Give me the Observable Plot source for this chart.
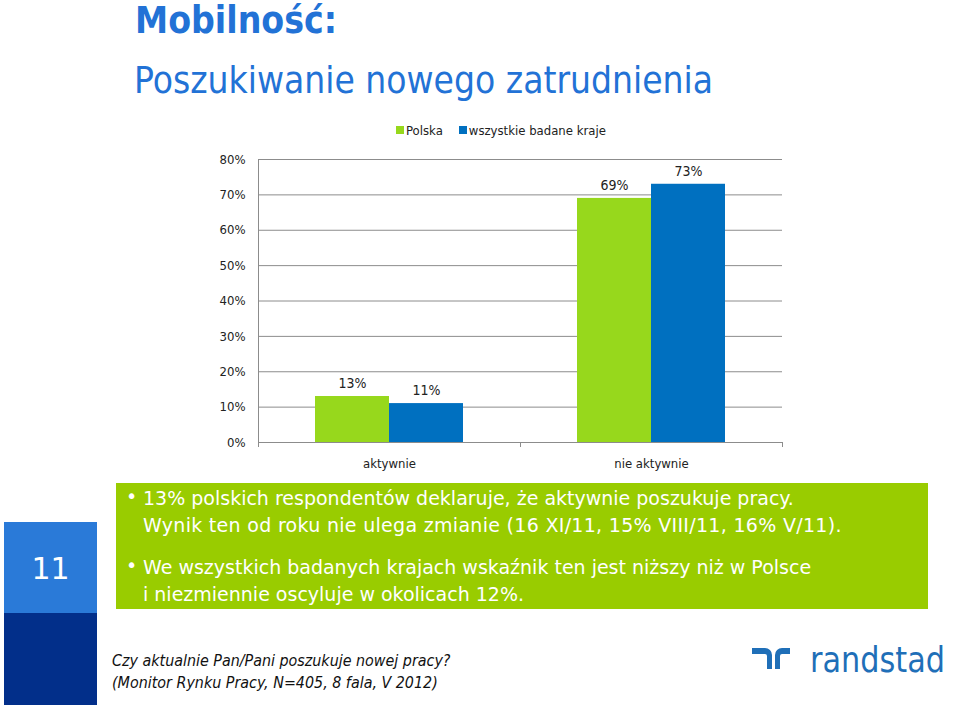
<!DOCTYPE html>
<html>
<head>
<meta charset="utf-8">
<script src="https://cdn.jsdelivr.net/npm/d3@7"></script>
<script src="https://cdn.jsdelivr.net/npm/@observablehq/plot@0.6"></script>
<style>
  html, body { margin: 0; padding: 0; background: #ffffff; }
  #page { position: relative; width: 960px; height: 706px; overflow: hidden; font-family: "DejaVu Sans Condensed", "DejaVu Sans", sans-serif; }
  .abs { position: absolute; white-space: nowrap; }
  #title { left: 135px; top: -1px; font-size: 37px; font-weight: bold; color: #2272d6; font-family: "DejaVu Sans Condensed", sans-serif; }
  #subtitle { left: 134px; top: 59px; font-size: 36.8px; color: #2272d6; font-family: "DejaVu Sans Condensed", sans-serif; }
  #legend { left: 396px; top: 123px; font-size: 13px; color: #222; display: flex; gap: 16px; align-items: center; }
  #legend span.sw { display: inline-block; width: 8px; height: 8px; margin-right: 2px; vertical-align: 1px; }
  #chart { left: 0; top: 140px; }
  #blockLight { left: 4px; top: 522px; width: 93px; height: 91px; background: #2a7ad8; }
  #blockDark { left: 4px; top: 613px; width: 93px; height: 92px; background: #022f8a; }
  #pagenum { left: 4px; top: 551px; width: 93px; text-align: center; color: #fff; font-size: 30px; font-family: "DejaVu Sans", sans-serif; }
  #box { left: 116px; top: 483px; width: 812px; height: 126px; background: #99cc00; }
  .bul { position: absolute; color: #fff; font-size: 19px; font-family: "DejaVu Sans", sans-serif; white-space: nowrap; }
  #caption { left: 112px; top: 650px; font-size: 15.9px; font-style: italic; color: #111; line-height: 22px; font-family: "DejaVu Sans Condensed", sans-serif; }
  #logo { left: 750px; top: 638px; }
</style>
</head>
<body>
<div id="page">
  <div id="title" class="abs">Mobilność:</div>
  <div id="subtitle" class="abs">Poszukiwanie nowego zatrudnienia</div>
  <div id="legend" class="abs"></div>
  <div id="chart" class="abs"></div>
  <div id="blockLight" class="abs"></div>
  <div id="blockDark" class="abs"></div>
  <div id="pagenum" class="abs">11</div>
  <div id="box" class="abs">
    <div class="bul" style="left:10px; top:2px;">•</div>
    <div class="bul" style="left:27px; top:4px;">13% polskich respondentów deklaruje, że aktywnie poszukuje pracy.</div>
    <div class="bul" style="left:27px; top:31px; letter-spacing:0.3px;">Wynik ten od roku nie ulega zmianie (16 XI/11, 15% VIII/11, 16% V/11).</div>
    <div class="bul" style="left:10px; top:71px;">•</div>
    <div class="bul" style="left:27px; top:73px;">We wszystkich badanych krajach wskaźnik ten jest niższy niż w Polsce</div>
    <div class="bul" style="left:27px; top:100px;">i niezmiennie oscyluje w okolicach 12%.</div>
  </div>
  <div id="caption" class="abs">Czy aktualnie Pan/Pani poszukuje nowej pracy?<br>(Monitor Rynku Pracy, N=405, 8 fala, V 2012)</div>
  <svg id="logo" class="abs" width="205" height="45" viewBox="0 0 205 45">
    <g fill="#1f6fb8">
      <path d="M2 10 h13 a7 7 0 0 1 7 7 v14 h-5 v-13 a2 2 0 0 0 -2 -2 h-13 z"/>
      <path d="M40 10 h-8 a7 7 0 0 0 -7 7 v14 h5 v-13 a2 2 0 0 1 2 -2 h8 z"/>
    </g>
    <text x="60" y="34" fill="#1f6fb8" font-family="DejaVu Sans Condensed, sans-serif" font-size="36" textLength="135" lengthAdjust="spacingAndGlyphs">randstad</text>
  </svg>
</div>
<script>
// ---- data ----
const categories = ["aktywnie", "nie aktywnie"];
const seriesNames = ["Polska", "wszystkie badane kraje"];
const polskaValues = [13, 69];
const wszystkieValues = [11, 73];
const yTicks = [0, 10, 20, 30, 40, 50, 60, 70, 80];
const seriesColors = ["#97d81c", "#0070c0"];

const polska = categories.map((c, i) => ({category: c, value: polskaValues[i]}));
const wszystkie = categories.map((c, i) => ({category: c, value: wszystkieValues[i]}));

// legend
const legend = document.getElementById("legend");
seriesNames.forEach((name, i) => {
  const item = document.createElement("div");
  item.innerHTML = `<span class="sw" style="background:${seriesColors[i]}"></span>${name}`;
  legend.appendChild(item);
});

const font = "DejaVu Sans Condensed, DejaVu Sans, sans-serif";
const chart = Plot.plot({
  width: 960,
  height: 340,
  marginLeft: 258,
  marginRight: 178,
  marginTop: 19,
  marginBottom: 38,
  style: {fontFamily: font, fontSize: "13px", color: "#222", background: "transparent"},
  x: {domain: categories, padding: 0, label: null},
  y: {domain: [0, 80], ticks: yTicks, label: null},
  marks: [
    Plot.ruleY(yTicks, {stroke: "#8c8c8c", strokeWidth: 1}),
    Plot.frame({anchor: "left", stroke: "#8c8c8c"}),
    Plot.barY(polska, {x: "category", y: "value", fill: seriesColors[0], insetLeft: 57, insetRight: 131}),
    Plot.barY(wszystkie, {x: "category", y: "value", fill: seriesColors[1], insetLeft: 131, insetRight: 57}),
    Plot.text(polska, {x: "category", y: "value", text: d => d.value + "%", dx: -37, dy: -13, fontSize: 14, fill: "#222"}),
    Plot.text(wszystkie, {x: "category", y: "value", text: d => d.value + "%", dx: 37, dy: -13, fontSize: 14, fill: "#222"}),
    Plot.axisY({ticks: yTicks, tickSize: 0, tickPadding: 13, tickFormat: d => d + "%", fontSize: 13, label: null}),
    Plot.axisX({tickSize: 0, tickPadding: 16, fontSize: 13, label: null}),
    Plot.axisX({tickSize: 5, stroke: "#8c8c8c", tickFormat: () => "", dx: -131, label: null}),
    Plot.axisX({tickSize: 5, stroke: "#8c8c8c", tickFormat: () => "", dx: 131, label: null})
  ]
});
document.getElementById("chart").appendChild(chart);
</script>
</body>
</html>
